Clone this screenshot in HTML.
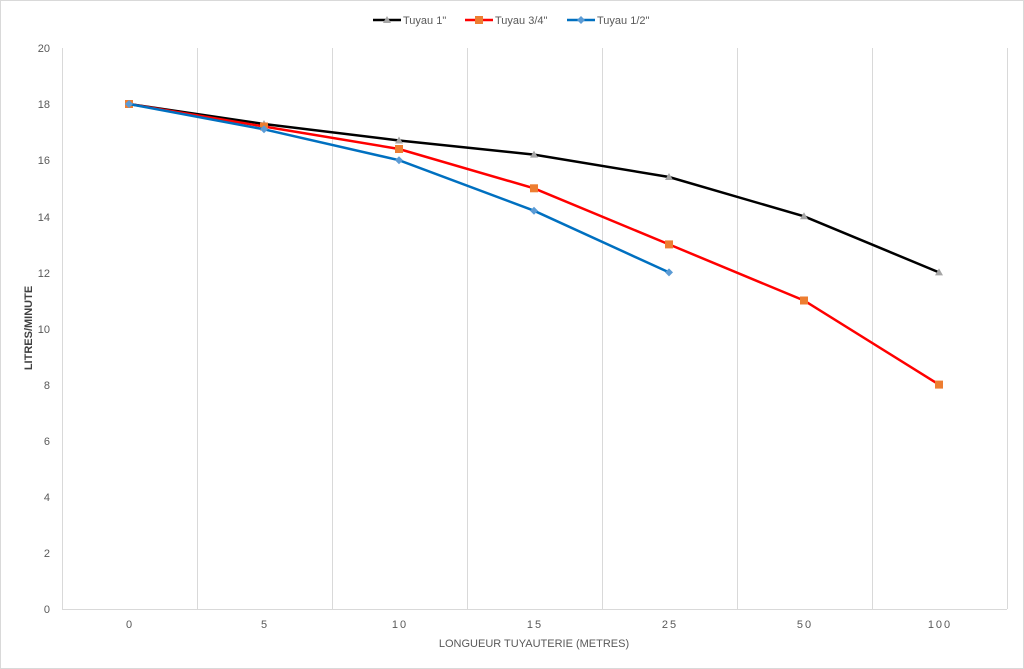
<!DOCTYPE html>
<html><head><style>body{margin:0;background:#fff}svg{display:block}</style></head><body>
<svg width="1024" height="669" xmlns="http://www.w3.org/2000/svg" font-family="Liberation Sans, sans-serif">
<rect x="0.5" y="0.5" width="1023" height="668" fill="#fff" stroke="#d9d9d9"/>
<g stroke="#d9d9d9" stroke-width="1">
<line x1="62.5" y1="48" x2="62.5" y2="609"/>
<line x1="197.5" y1="48" x2="197.5" y2="609"/>
<line x1="332.5" y1="48" x2="332.5" y2="609"/>
<line x1="467.5" y1="48" x2="467.5" y2="609"/>
<line x1="602.5" y1="48" x2="602.5" y2="609"/>
<line x1="737.5" y1="48" x2="737.5" y2="609"/>
<line x1="872.5" y1="48" x2="872.5" y2="609"/>
<line x1="1007.5" y1="48" x2="1007.5" y2="609"/>
<line x1="62" y1="609.5" x2="1007" y2="609.5"/>
</g>
<g font-size="11" fill="#595959" text-anchor="end">
<text x="50" y="52">20</text><text x="50" y="108">18</text><text x="50" y="164">16</text>
<text x="50" y="221">14</text><text x="50" y="277">12</text><text x="50" y="333">10</text>
<text x="50" y="389">8</text><text x="50" y="445">6</text><text x="50" y="501">4</text>
<text x="50" y="557">2</text><text x="50" y="613">0</text>
</g>
<g font-size="11" fill="#595959" text-anchor="middle" letter-spacing="2">
<text x="130" y="628">0</text><text x="265" y="628">5</text><text x="400" y="628">10</text>
<text x="535" y="628">15</text><text x="670" y="628">25</text><text x="805" y="628">50</text><text x="940" y="628">100</text>
</g>
<text x="534" y="647" font-size="11" fill="#595959" text-anchor="middle">LONGUEUR TUYAUTERIE (METRES)</text>
<text transform="translate(32,328) rotate(-90)" font-size="11" font-weight="bold" fill="#404040" text-anchor="middle">LITRES/MINUTE</text>
<polyline fill="none" stroke="#000" stroke-width="2.5" points="129,104 264,124 399,140.5 534,154.6 669,177 804,216.3 939,272.4"/>
<g fill="#a5a5a5">
<path d="M129,100 l4,7 h-8z"/><path d="M264,120 l4,7 h-8z"/><path d="M399,136.5 l4,7 h-8z"/><path d="M534,150.6 l4,7 h-8z"/><path d="M669,173 l4,7 h-8z"/><path d="M804,212.3 l4,7 h-8z"/><path d="M939,268.4 l4,7 h-8z"/>
</g>
<polyline fill="none" stroke="#ff0000" stroke-width="2.5" points="129,104 264,126.5 399,149 534,188.3 669,244.4 804,300.5 939,384.6"/>
<g fill="#ed7d31">
<rect x="125" y="100" width="8" height="8"/><rect x="260" y="122.5" width="8" height="8"/><rect x="395" y="145" width="8" height="8"/><rect x="530" y="184.3" width="8" height="8"/><rect x="665" y="240.4" width="8" height="8"/><rect x="800" y="296.5" width="8" height="8"/><rect x="935" y="380.6" width="8" height="8"/>
</g>
<polyline fill="none" stroke="#0070c0" stroke-width="2.5" points="129,104 264,129.3 399,160.2 534,210.7 669,272.4"/>
<g fill="#5b9bd5">
<path d="M129,100 l4,4 -4,4 -4,-4z"/><path d="M264,125.3 l4,4 -4,4 -4,-4z"/><path d="M399,156.2 l4,4 -4,4 -4,-4z"/><path d="M534,206.7 l4,4 -4,4 -4,-4z"/><path d="M669,268.4 l4,4 -4,4 -4,-4z"/>
</g>
<g font-size="11" fill="#595959">
<line x1="373" y1="20" x2="401" y2="20" stroke="#000" stroke-width="2.5"/><path d="M387,16 l4,7 h-8z" fill="#a5a5a5"/>
<text x="403" y="24">Tuyau 1"</text>
<line x1="465" y1="20" x2="493" y2="20" stroke="#ff0000" stroke-width="2.5"/><rect x="475" y="16" width="8" height="8" fill="#ed7d31"/>
<text x="495" y="24">Tuyau 3/4"</text>
<line x1="567" y1="20" x2="595" y2="20" stroke="#0070c0" stroke-width="2.5"/><path d="M581,16 l4,4 -4,4 -4,-4z" fill="#5b9bd5"/>
<text x="597" y="24">Tuyau 1/2"</text>
</g>
</svg>
</body></html>
